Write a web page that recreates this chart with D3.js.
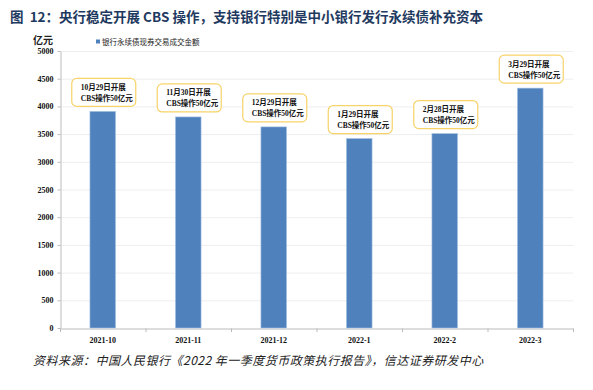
<!DOCTYPE html>
<html>
<head>
<meta charset="utf-8">
<script src="https://cdn.jsdelivr.net/npm/d3@7"></script>
<style>
  body { margin: 0; background: #fff; }
  svg { display: block; }
</style>
</head>
<body>
<svg id="chart" width="593" height="390"></svg>
<script>
const months = ["2021-10", "2021-11", "2021-12", "2022-1", "2022-2", "2022-3"];
const volumes = [3910, 3810, 3630, 3420, 3510, 4330];
const notes = [
  ["10月29日开展", "CBS操作50亿元"],
  ["11月30日开展", "CBS操作50亿元"],
  ["12月29日开展", "CBS操作50亿元"],
  ["1月29日开展", "CBS操作50亿元"],
  ["2月28日开展", "CBS操作50亿元"],
  ["3月29日开展", "CBS操作50亿元"]
];
const yTicks = [0, 500, 1000, 1500, 2000, 2500, 3000, 3500, 4000, 4500, 5000];

const svg = d3.select("#chart");
const serif = "'Liberation Serif', 'Noto Sans CJK SC', serif";
const cjk = "'Noto Sans CJK SC', sans-serif";

const x = d3.scaleBand().domain(months).range([60, 573]).paddingInner(0.7).paddingOuter(0.35);
const y = d3.scaleLinear().domain([0, 5000]).range([328, 51]);

// title
svg.append("text")
  .attr("x", 10).attr("y", 22)
  .attr("fill", "#1f3a60")
  .style("font-family", cjk)
  .style("font-weight", "bold")
  .style("font-size", "13.5px")
  .attr("xml:space", "preserve")
  .text("图  12：央行稳定开展 CBS 操作，支持银行特别是中小银行发行永续债补充资本");

svg.append("text")
  .attr("x", 33).attr("y", 44)
  .attr("fill", "#222")
  .style("font-family", cjk).style("font-size", "10px").style("font-weight", "bold")
  .text("亿元");

// legend
svg.append("rect").attr("x", 96).attr("y", 39.5).attr("width", 4).attr("height", 4).attr("fill", "#4f81bd");
svg.append("text")
  .attr("x", 102).attr("y", 44.5)
  .attr("fill", "#222")
  .style("font-family", cjk).style("font-size", "7.5px")
  .text("银行永续债现券交易成交金额");

// grid
svg.append("g").selectAll("line").data(yTicks.slice(1)).join("line")
  .attr("x1", 61).attr("x2", 573)
  .attr("y1", d => y(d) + 0.5).attr("y2", d => y(d) + 0.5)
  .attr("stroke", "#eeeeee");

// y axis
const yAxis = svg.append("g").attr("transform", "translate(60.5,0)")
  .call(d3.axisLeft(y).tickValues(yTicks).tickFormat(d3.format("d")).tickSize(3).tickPadding(4).tickSizeOuter(0));
yAxis.select(".domain").attr("stroke", "#bbb");
yAxis.selectAll(".tick line").attr("stroke", "#bbb");
yAxis.selectAll("text").attr("fill", "#111")
  .style("font-family", serif).style("font-weight", "bold").style("font-size", "8px");

// x axis
const xAxis = svg.append("g").attr("transform", "translate(0,328.5)")
  .call(d3.axisBottom(x).tickSize(0).tickPadding(9));
xAxis.select(".domain").attr("stroke", "#bbb");
xAxis.selectAll("text").attr("fill", "#111")
  .style("font-family", serif).style("font-weight", "bold").style("font-size", "8px");
svg.append("g").selectAll("line").data(d3.range(months.length + 1)).join("line")
  .attr("x1", i => 60.5 + i * x.step()).attr("x2", i => 60.5 + i * x.step())
  .attr("y1", 328.5).attr("y2", 332)
  .attr("stroke", "#bbb");

// bars
svg.append("g").selectAll("rect").data(volumes).join("rect")
  .attr("x", (d, i) => x(months[i]))
  .attr("y", d => y(d))
  .attr("width", x.bandwidth())
  .attr("height", d => y(0) - y(d))
  .attr("fill", "#4f81bd")
  .attr("stroke", "#a9c3e3")
  .attr("stroke-width", 0.6);

// callouts
const boxW = 64, boxH = 28;
const callouts = svg.append("g").selectAll("g").data(volumes).join("g")
  .attr("transform", (d, i) => `translate(${x(months[i]) + x.bandwidth() / 2 + 1 - boxW / 2},${y(d) - 5 - boxH})`);
callouts.append("rect")
  .attr("width", boxW).attr("height", boxH)
  .attr("rx", 5)
  .attr("fill", "#fff")
  .attr("stroke", "#f7d36a")
  .attr("stroke-width", 1.2);
callouts.append("text")
  .attr("x", 9).attr("y", 11.5)
  .attr("fill", "#111")
  .style("font-family", serif).style("font-size", "7.5px").style("font-weight", "bold")
  .text((d, i) => notes[i][0]);
callouts.append("text")
  .attr("x", 9).attr("y", 22.5)
  .attr("fill", "#111")
  .style("font-family", serif).style("font-size", "7.5px").style("font-weight", "bold")
  .text((d, i) => notes[i][1]);

// source
svg.append("text")
  .attr("x", 33).attr("y", 365)
  .attr("fill", "#222")
  .style("font-family", cjk).style("font-size", "12px").style("font-style", "italic")
  .style("letter-spacing", "0.5px")
  .text("资料来源：中国人民银行《2022 年一季度货币政策执行报告》，信达证券研发中心");
</script>
</body>
</html>
